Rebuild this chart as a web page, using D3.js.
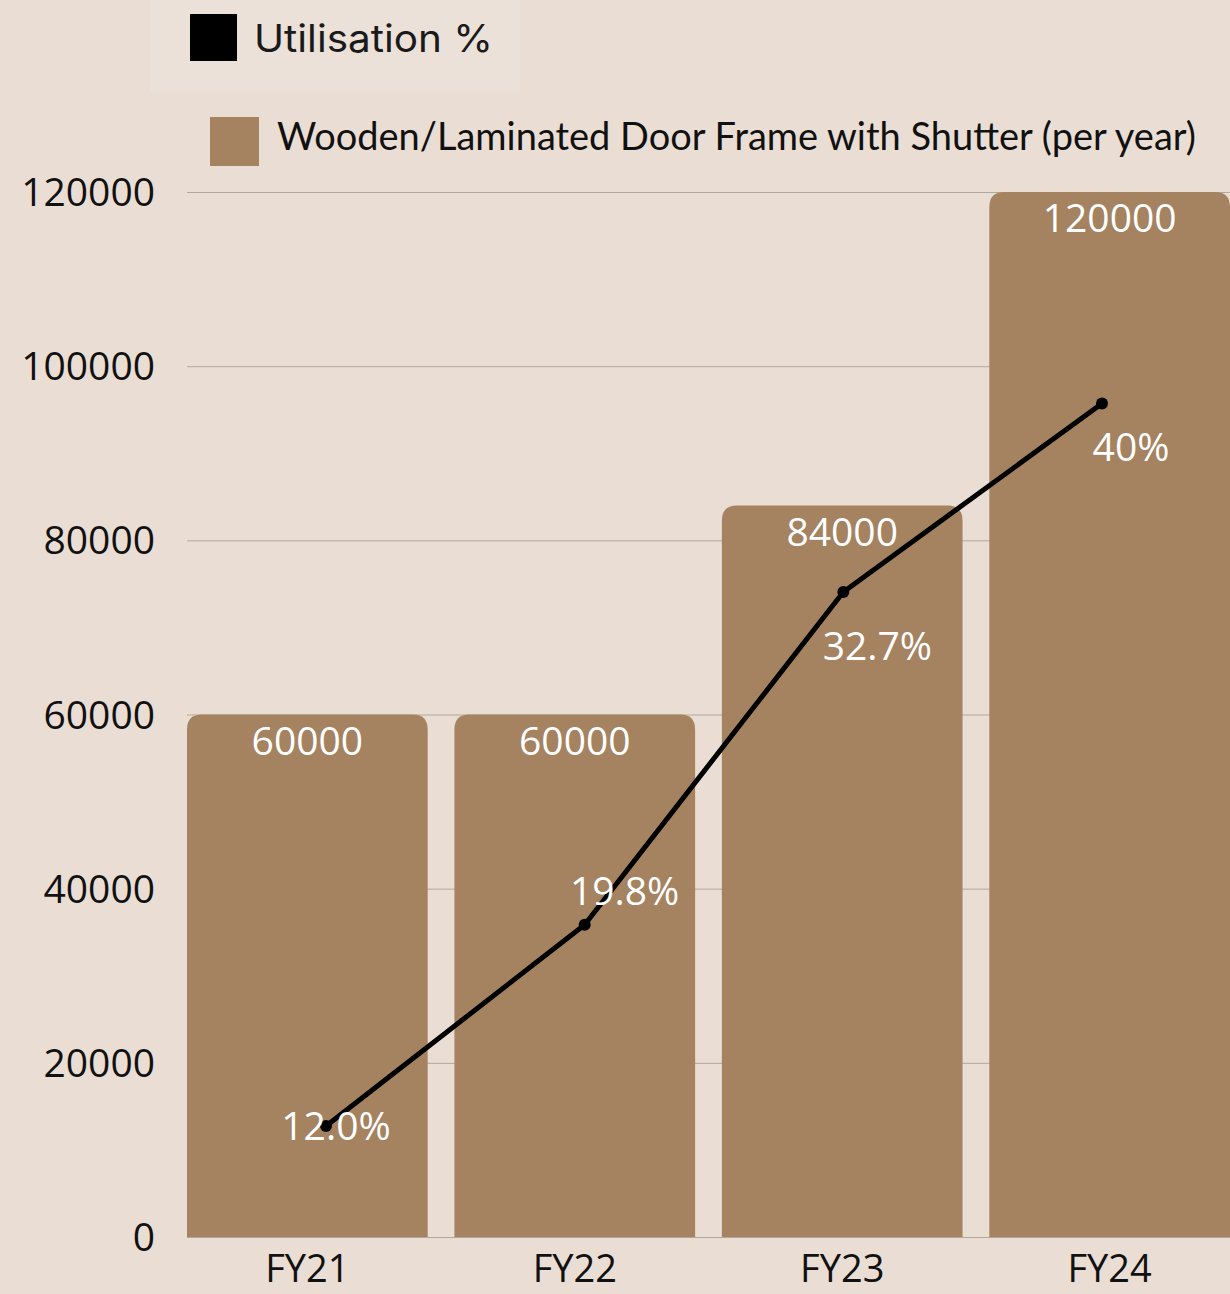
<!DOCTYPE html>
<html>
<head>
<meta charset="utf-8">
<script src="https://cdn.jsdelivr.net/npm/d3@7"></script>
<style>
  html, body { margin: 0; padding: 0; background: #EADED4; }
  svg { display: block; }
</style>
</head>
<body>
<svg id="chart" width="1230" height="1294"></svg>
<script>
// Capacity per year and utilisation for each financial year
const categories = ["FY21", "FY22", "FY23", "FY24"];
const capacity = [60000, 60000, 84000, 120000];
const utilisation = [12.0, 19.8, 32.7, 40];
const utilisationLabels = ["12.0%", "19.8%", "32.7%", "40%"];
const yTicks = [0, 20000, 40000, 60000, 80000, 100000, 120000];
// label offsets (dx, dy) from each line point
const pctLabelOffset = [[10, 0], [40, -33], [34, 54], [29, 44]];

const barName = "Wooden/Laminated Door Frame with Shutter (per year)";
const lineName = "Utilisation %";

const BAR = "#A58260";
const GRID = "#B3A69B";

const svg = d3.select("#chart");
const plot = { left: 187, right: 1230, top: 192, bottom: 1237 };

const x = d3.scaleBand().domain(categories)
  .range([plot.left, plot.right]).paddingInner(0.1).paddingOuter(0);
const y = d3.scaleLinear().domain([0, 120000]).range([plot.bottom, plot.top]);
// secondary axis for utilisation (not drawn)
const xl = d3.scalePoint().domain(categories).range([326, 1102]);
const y2 = d3.scaleLinear().domain([7.7, 48.2]).range([plot.bottom, plot.top]);

const font = "'Open Sans', 'Noto Sans', sans-serif";
const FS = 39;

// legend: utilisation
svg.append("rect").attr("x", 150).attr("y", 0).attr("width", 370).attr("height", 92)
  .attr("fill", "#ECE1D8");
svg.append("rect").attr("x", 190).attr("y", 14).attr("width", 47).attr("height", 47)
  .attr("fill", "#000");
svg.append("text").attr("x", 254).attr("y", 52)
  .attr("font-family", "Inter, sans-serif").attr("font-size", 38)
  .attr("textLength", 239).attr("lengthAdjust", "spacingAndGlyphs")
  .attr("fill", "#1a1a1a").text(lineName);

// legend: capacity bars
svg.append("rect").attr("x", 210).attr("y", 117).attr("width", 49).attr("height", 49)
  .attr("fill", BAR);
svg.append("text").attr("x", 277).attr("y", 150)
  .attr("font-family", "Lato, sans-serif").attr("font-size", 39)
  .attr("textLength", 919).attr("lengthAdjust", "spacingAndGlyphs")
  .attr("fill", "#111").text(barName);

// gridlines and y tick labels
const yAxis = d3.axisLeft(y).tickValues(yTicks)
  .tickSize(-(plot.right - plot.left)).tickPadding(32).tickFormat(d3.format("d"));
const ga = svg.append("g").attr("transform", `translate(${plot.left},0)`).call(yAxis);
ga.select(".domain").remove();
ga.selectAll(".tick line").attr("stroke", GRID).attr("stroke-width", 1);
ga.selectAll(".tick text")
  .attr("font-family", font).attr("font-size", FS).attr("fill", "#111")
  .attr("dy", "0.35em");

// bars with rounded top corners
const r = 15;
function topRounded(x0, y0, w, h) {
  const rr = Math.min(r, h);
  return `M${x0},${y0 + h}V${y0 + rr}Q${x0},${y0} ${x0 + rr},${y0}` +
    `H${x0 + w - rr}Q${x0 + w},${y0} ${x0 + w},${y0 + rr}V${y0 + h}Z`;
}
svg.append("g").selectAll("path").data(categories).join("path")
  .attr("d", (c, i) => topRounded(x(c), y(capacity[i]), x.bandwidth(), y(0) - y(capacity[i])))
  .attr("fill", BAR);

// bar value labels
svg.append("g").selectAll("text").data(categories).join("text")
  .attr("x", c => x(c) + x.bandwidth() / 2)
  .attr("y", (c, i) => y(capacity[i]) + 40)
  .attr("text-anchor", "middle")
  .attr("font-family", font).attr("font-size", FS).attr("fill", "#fff")
  .text((c, i) => capacity[i]);

// x axis labels
svg.append("g").selectAll("text").data(categories).join("text")
  .attr("x", c => x(c) + x.bandwidth() / 2)
  .attr("y", 1282)
  .attr("text-anchor", "middle")
  .attr("font-family", font).attr("font-size", 38).attr("fill", "#111")
  .text(c => c);

// utilisation line
const line = d3.line().x((d, i) => xl(categories[i])).y(d => y2(d));
svg.append("path").datum(utilisation).attr("d", line)
  .attr("fill", "none").attr("stroke", "#000").attr("stroke-width", 5)
  .attr("stroke-linejoin", "round");
svg.append("g").selectAll("circle").data(utilisation).join("circle")
  .attr("cx", (d, i) => xl(categories[i])).attr("cy", d => y2(d)).attr("r", 6)
  .attr("fill", "#000");

// utilisation labels
svg.append("g").selectAll("text").data(utilisation).join("text")
  .attr("x", (d, i) => xl(categories[i]) + pctLabelOffset[i][0])
  .attr("y", (d, i) => y2(d) + pctLabelOffset[i][1])
  .attr("dy", "0.35em")
  .attr("text-anchor", "middle")
  .attr("font-family", font).attr("font-size", FS).attr("fill", "#fff")
  .text((d, i) => utilisationLabels[i]);
</script>
</body>
</html>
